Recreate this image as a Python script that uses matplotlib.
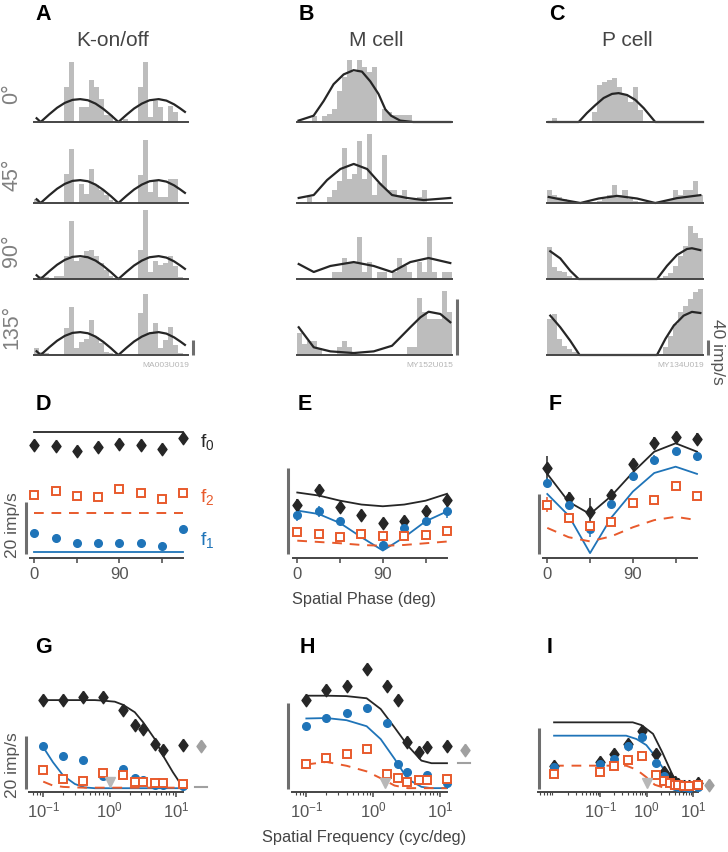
import matplotlib
matplotlib.use('Agg')
import matplotlib.pyplot as plt
import numpy as np
from matplotlib.ticker import LogLocator, NullFormatter, FixedLocator, FixedFormatter

# ---------------- data ----------------
# PSTH histograms (imp/s), 31 bins over one stimulus cycle
a_hist = [
    [0, 0, 0, 0, 0, 0, 93, 160, 0, 40, 40, 112, 93, 61, 19, 19, 0, 0, 8, 0, 0, 93, 160, 13, 56, 40, 0, 43, 27, 0, 0],
    [11, 0, 0, 0, 0, 0, 77, 144, 0, 51, 24, 91, 48, 35, 21, 8, 0, 0, 0, 0, 0, 75, 168, 29, 61, 16, 16, 64, 64, 0, 0],
    [0, 8, 5, 0, 8, 8, 61, 155, 48, 56, 75, 77, 61, 43, 24, 8, 0, 0, 0, 0, 0, 77, 184, 19, 48, 37, 43, 61, 35, 5, 0],
    [19, 8, 5, 0, 0, 0, 72, 128, 19, 35, 43, 93, 48, 32, 8, 5, 0, 0, 0, 0, 0, 112, 163, 59, 85, 19, 40, 75, 27, 5, 0],
]
b_hist = [
    [0, 0, 0, 4, 0, 4, 6, 9, 22, 32, 44, 36, 44, 39, 36, 39, 0, 9, 7, 5, 5, 5, 5, 0, 0, 0, 0, 0, 0, 0, 0],
    [0, 0, 4, 0, 0, 0, 4, 9, 16, 39, 17, 21, 44, 17, 49, 6, 14, 34, 9, 9, 6, 9, 2, 2, 4, 9, 0, 0, 0, 0, 0],
    [0, 0, 0, 0, 0, 0, 0, 5, 5, 15, 12, 12, 30, 5, 12, 0, 5, 5, 0, 5, 15, 9, 5, 0, 12, 5, 30, 5, 0, 5, 5],
    [16, 8, 10, 10, 5, 0, 0, 0, 6, 10, 6, 0, 0, 0, 0, 0, 0, 0, 0, 0, 0, 0, 6, 6, 41, 31, 26, 26, 26, 46, 31],
]
c_hist = [
    [0, 11, 3, 3, 0, 0, 0, 0, 0, 27, 99, 107, 112, 117, 93, 75, 53, 93, 32, 0, 0, 0, 0, 0, 0, 0, 0, 0, 3, 0, 0],
    [35, 21, 16, 11, 5, 0, 0, 0, 0, 0, 5, 11, 21, 48, 21, 35, 11, 5, 0, 0, 0, 0, 0, 5, 11, 35, 21, 35, 35, 59, 21],
    [85, 31, 22, 18, 9, 0, 0, 0, 0, 0, 0, 0, 0, 0, 0, 0, 0, 0, 0, 0, 0, 0, 0, 8, 16, 35, 61, 88, 141, 123, 109],
    [96, 109, 43, 24, 16, 8, 0, 0, 0, 0, 0, 0, 0, 0, 0, 0, 0, 0, 0, 0, 0, 0, 3, 21, 51, 83, 115, 131, 149, 168, 176],
]

# model fits over the cycle (x = fraction of cycle, y = imp/s)
a_fit_x = [0.017, 0.043, 0.10, 0.15, 0.20, 0.25, 0.30, 0.35, 0.40, 0.45, 0.50, 0.548,
           0.60, 0.65, 0.70, 0.75, 0.81, 0.86, 0.91, 0.95, 0.98]
a_fit_y = [10, 0, 21, 38, 51, 59, 61, 58, 49, 35, 18, 0, 19, 36, 49, 58, 61, 57, 47, 36, 27]
b_fit = [
    ([0.01, 0.107, 0.172, 0.236, 0.301, 0.365, 0.419, 0.473, 0.526, 0.570, 0.607, 0.666, 0.75, 0.99],
     [1, 4.5, 15, 27, 34, 37, 36, 29, 20, 9, 4.5, 1, 0, 0]),
    ([0.011, 0.108, 0.194, 0.280, 0.366, 0.452, 0.538, 0.613, 0.710, 0.817, 0.989],
     [3.6, 5.7, 16.4, 24.3, 27.9, 24.3, 13.6, 5.7, 3.6, 2.1, 3.6]),
    ([0.011, 0.108, 0.215, 0.366, 0.495, 0.613, 0.731, 0.849, 0.989],
     [10.7, 5.0, 9.3, 12.1, 9.3, 5.0, 12.1, 15.0, 11.4]),
    ([0.011, 0.108, 0.215, 0.366, 0.495, 0.613, 0.667, 0.731, 0.796, 0.849, 0.925, 0.989],
     [19.8, 5.5, 2.6, 1.4, 2.6, 6.6, 12.6, 19.8, 26.9, 30.9, 29.3, 23.4]),
]
c_fit = [
    ([0.01, 0.203, 0.256, 0.310, 0.363, 0.417, 0.459, 0.513, 0.566, 0.620, 0.662, 0.694, 1.0],
     [0, 0, 24, 45, 64, 75, 77, 72, 59, 37, 16, 0, 0]),
    ([0.011, 0.107, 0.214, 0.331, 0.449, 0.577, 0.694, 0.833, 0.983],
     [16, 8, 0, 12, 19, 12, 0, 13, 21]),
    ([0.021, 0.085, 0.149, 0.203, 0.705, 0.769, 0.833, 0.897, 0.929, 0.983],
     [74, 55, 22, 0, 0, 35, 64, 80, 82, 77]),
    ([0.021, 0.085, 0.149, 0.209, 0.705, 0.759, 0.812, 0.876, 0.929, 0.983],
     [105, 74, 38, 0, 0, 43, 78, 105, 115, 112]),
]

orientations = ['0°', '45°', '90°', '135°']
cell_titles = ['K-on/off', 'M cell', 'P cell']
cell_ids = ['MA003U019', 'MY152U015', 'MY134U019']

# spatial phase tuning (imp/s)
phase = [0, 22.5, 45, 67.5, 90, 112.5, 135, 157.5]
d_f0 = [41.9, 41.4, 39.5, 41.0, 42.3, 42.0, 40.4, 44.5]
d_f1 = [8.1, 6.0, 4.1, 4.1, 4.1, 4.1, 3.0, 9.5]
d_f2 = [22.8, 24.2, 22.3, 21.9, 25.1, 23.3, 21.2, 23.3]
d_f0_err = [0.8, 0.6, 0.6, 0.6, 0.8, 0.6, 0.8, 0.8]
d_f1_err = [0.5, 0.5, 1.0, 0.5, 0.5, 0.5, 1.0, 1.2]
d_f2_err = [1.5, 0.5, 0.5, 0.5, 1.2, 0.5, 1.5, 0.5]
d_f0_fit = [47, 47, 47, 47, 47, 47, 47, 47]
d_f1_fit = [0.6, 0.6, 0.6, 0.6, 0.6, 0.6, 0.6, 0.6]
d_f2_fit = [15.6, 15.6, 15.6, 15.6, 15.6, 15.6, 15.6, 15.6]

e_f0 = [11.5, 14.9, 11.0, 9.1, 7.1, 7.7, 9.9, 12.6]
e_f1 = [9.1, 9.9, 7.7, 5.0, 2.2, 6.0, 7.6, 9.9]
e_f2 = [5.2, 4.7, 3.9, 4.7, 4.3, 4.3, 4.5, 5.4]
e_f0_err = [1.2, 1.0, 0.8, 0.8, 0.8, 0.8, 1.0, 1.2]
e_f1_err = [1.5, 1.2, 0.8, 0.8, 0.8, 0.8, 1.2, 1.5]
e_f2_err = [0.8, 0.8, 0.8, 0.5, 0.5, 0.5, 0.8, 0.5]
e_f0_fit = [14.3, 13.6, 12.4, 11.5, 11.1, 11.5, 12.4, 14.0]
e_f1_fit = [10.1, 9.3, 7.2, 3.9, 0.8, 3.9, 7.6, 9.9]
e_f2_fit = [3.1, 2.8, 2.5, 2.1, 1.9, 2.1, 2.5, 2.9]

f_f0 = [28.7, 18.6, 14.1, 19.8, 30.0, 36.9, 39.1, 38.3]
f_f1 = [23.7, 16.4, 8.3, 16.7, 25.9, 31.4, 34.4, 32.6]
f_f2 = [16.4, 12.0, 9.4, 10.8, 16.9, 18.0, 22.8, 19.4]
f_f0_err = [4.0, 2.0, 4.5, 1.5, 1.5, 2.0, 1.5, 2.0]
f_f1_err = [1.5, 1.5, 2.5, 1.0, 1.0, 1.5, 1.0, 1.5]
f_f2_err = [2.5, 1.5, 1.5, 1.0, 1.0, 1.0, 1.0, 1.0]
f_f0_fit = [26.7, 17.4, 13.3, 19.4, 27.2, 34.1, 36.9, 34.1]
f_f1_fit = [20.0, 12.8, 0.3, 12.2, 20.8, 27.0, 29.1, 26.7]
f_f2_fit = [8.7, 5.6, 4.2, 5.9, 8.9, 11.3, 12.4, 11.3]

# spatial frequency tuning (imp/s)
sf = [0.1, 0.2, 0.4, 0.8, 1.6, 2.4, 3.2, 4.8, 6.4, 12.8]
g_f0 = [33.8, 33.8, 35.1, 35.1, 30.0, 24.3, 22.8, 17.1, 14.9, 16.7]
g_f1 = [16.2, 12.7, 11.0, 5.0, 7.6, 4.1, 3.5, 1.5, 1.5, 1.0]
g_f2 = [7.2, 3.8, 3.2, 6.0, 5.4, 2.8, 2.5, 2.3, 2.3, 1.9]
g_f0_err = [0.8, 0.8, 1.0, 1.0, 1.0, 1.0, 1.0, 1.0, 1.0, 2.0]
g_fit_x = [0.1, 0.14, 0.2, 0.3, 0.42, 0.6, 0.8, 1.2, 1.6, 2.4, 3.2, 4.8, 6.4, 9.0, 12.8]
g_f0_fit = [33.8, 33.8, 33.8, 33.8, 33.8, 33.8, 33.6, 33.2, 32.0, 29.2, 25.4, 19.0, 12.7, 6.4, 0.6]
g_f1_fit = [15.9, 10.2, 5.1, 1.9, 0.6, 0.3, 0.3, 0.3, 0.3, 0.3, 0.3, 0.3, 0.3, 0.3, 0.3]
g_f2_fit = [2.8, 1.3, 0.8, 0.6, 0.5, 0.5, 0.5, 0.5, 0.5, 0.5, 0.5, 0.5, 0.5, 0.5, 0.5]
g_blank = dict(f0=16.5, base=0.6, tri=(1.0, 2.6))

h_f0 = [20.7, 23.0, 24.0, 27.9, 24.0, 20.7, 11.0, 8.5, 9.7, 10.1]
h_f1 = [14.6, 16.5, 17.6, 18.8, 15.3, 5.7, 3.9, 2.0, 3.3, 1.5]
h_f2 = [5.7, 7.2, 8.1, 9.3, 3.6, 2.6, 1.7, 2.1, 2.1, 2.3]
h_f0_err = [0.8, 0.8, 0.8, 0.8, 0.8, 1.0, 0.8, 0.8, 0.8, 0.8]
h_fit_x = [0.1, 0.2, 0.4, 0.8, 1.3, 2.1, 3.3, 5.3, 7.5, 12.8]
h_f0_fit = [21.7, 21.7, 21.6, 21.1, 18.6, 14.3, 10.1, 6.6, 6.0, 6.0]
h_f1_fit = [16.4, 16.5, 16.0, 14.6, 11.6, 7.0, 2.3, 0.5, 0.2, 0.2]
h_f2_fit = [5.7, 6.3, 5.4, 4.1, 2.5, 0.8, 0.2, 0.2, 0.2, 0.2]
h_blank = dict(f0=9.1, base=6.0, tri=(1.5, 1.3))

sf_i = [0.01, 0.1, 0.2, 0.4, 0.8, 1.6, 2.4, 3.2, 4.0, 4.8, 6.4, 8.0, 12.8]
i_f0 = [7.7, 9.0, 11.5, 14.9, 19.2, 11.5, 5.5, 3.5, 2.2, 1.6, 1.1, 0.9, 1.9]
i_f1 = [7.3, 8.2, 9.9, 14.3, 17.1, 8.6, 4.4, 2.4, 1.1, 0.7, 0.5, 0.4, 0.7]
i_f2 = [5.0, 5.5, 7.7, 9.7, 11.0, 4.7, 2.5, 1.9, 1.4, 1.2, 0.9, 0.9, 1.4]
i_f0_err = [0.8, 0.8, 0.8, 0.8, 0.8, 0.8, 0.6, 0.6, 0.5, 0.5, 0.5, 0.5, 0.5]
i_f0_fit_x = [0.01, 0.1, 0.5, 0.77, 1.37, 2.17, 3.4, 4.7, 7.2, 12.8]
i_f0_fit = [22.0, 22.0, 22.0, 21.1, 18.2, 12.1, 5.5, 1.1, 0.2, 0.0]
i_f1_fit_x = [0.01, 0.1, 0.36, 0.6, 0.98, 1.49, 2.17, 3.4, 5.2, 7.2, 12.8]
i_f1_fit = [17.6, 17.6, 17.6, 16.5, 14.5, 11.0, 7.2, 3.3, 0.8, 0.2, 0.2]
i_f2_fit_x = [0.01, 0.1, 0.36, 0.6, 0.98, 1.49, 2.17, 3.4, 12.8]
i_f2_fit = [7.7, 7.7, 7.7, 6.4, 3.9, 1.4, 0.6, 0.2, 0.2]
i_blank = dict(f0=1.3, base=None, tri=(1.0, 2.0))

# ---------------- style ----------------
W, H = 728, 853
plt.rcParams['font.family'] = ['Liberation Sans', 'DejaVu Sans']
plt.rcParams['mathtext.fontset'] = 'custom'
plt.rcParams['mathtext.rm'] = 'Liberation Sans'
plt.rcParams['mathtext.it'] = 'Liberation Sans:italic'
plt.rcParams['mathtext.bf'] = 'Liberation Sans:bold'

DARK = '#262626'
BLUE = '#1f74b8'
ORANGE = '#e85a2c'
BAR = '#bdbdbd'
SCALE = '#6e6e6e'
AXC = '#454545'
TXT = '#555555'

diamond = [(0, 1), (0.72, 0), (0, -1), (-0.72, 0), (0, 1)]

fig = plt.figure(figsize=(W / 100, H / 100), dpi=100)


def axes_px(x0, y0, x1, y1):
    return fig.add_axes([x0 / W, 1 - y1 / H, (x1 - x0) / W, (y1 - y0) / H])


def ftext(x, y, s, **kw):
    fig.text(x / W, 1 - y / H, s, **kw)


# ---------------- top: PSTHs ----------------
n_bins = 31
centers = (np.arange(n_bins) + 0.5) / n_bins
baselines = [123, 204, 280, 356]
columns = [
    dict(x=(34, 188), k=0.375, hists=a_hist, fits=[(a_fit_x, a_fit_y)] * 4, bar_x=193),
    dict(x=(297, 452), k=1.4, hists=b_hist, fits=b_fit, bar_x=457),
    dict(x=(547, 703), k=0.375, hists=c_hist, fits=c_fit, bar_x=708),
]
for ci, col in enumerate(columns):
    x0, x1 = col['x']
    for r, b in enumerate(baselines):
        ax = axes_px(x0, b - 76, x1, b)
        ax.set_xlim(0, 1)
        ax.set_ylim(0, 76 / col['k'])
        ax.bar(centers, col['hists'][r], width=1 / n_bins, color=BAR, linewidth=0)
        fx, fy = col['fits'][r]
        ax.plot(fx, fy, color=DARK, lw=1.6, clip_on=False, zorder=3)
        ax.plot([0, 1], [0, 0], color=AXC, lw=1.4, clip_on=False, zorder=4)
        ax.axis('off')
        if r == 3:
            xa = (col['bar_x'] - x0) / (x1 - x0)
            ax.plot([xa, xa], [0, 40], transform=ax.get_yaxis_transform(),
                    color=SCALE, lw=2.2, solid_capstyle='butt', clip_on=False)
    ftext((x0 + x1) / 2 + 2, 40, cell_titles[ci], ha='center', va='center',
          fontsize=15, color='#444444')
    ftext(x1 - 22, 366, cell_ids[ci], ha='center', va='center', fontsize=6, color='#b5b5b5')

for r, lab in enumerate(orientations):
    ftext(12, baselines[r] - 29, lab, rotation=90, ha='center', va='center',
          fontsize=15.5, color='#808080')
ftext(717, 352, '40 imp/s', rotation=-90, ha='center', va='center', fontsize=12.5, color=TXT)

for lab, (x, y) in zip('ABC', [(43, 15), (306, 15), (557, 15)]):
    ftext(x, y, lab, ha='center', va='center', fontsize=15.5, fontweight='bold', color='black')


# ---------------- helpers for tuning panels ----------------
def base_axis(ax):
    for s in ['top', 'right', 'left']:
        ax.spines[s].set_visible(False)
    ax.spines['bottom'].set_color(AXC)
    ax.spines['bottom'].set_linewidth(1.4)
    ax.tick_params(axis='x', colors=AXC, length=3.5, width=1.1, labelsize=12,
                   labelcolor=TXT, pad=2)
    ax.tick_params(axis='x', which='minor', colors=AXC, length=2, width=0.8)
    ax.set_yticks([])
    ax.patch.set_alpha(0)


def scale_bar(ax, xpx, x0, x1, val=20):
    xa = (xpx - x0) / (x1 - x0)
    ax.plot([xa, xa], [0, val], transform=ax.get_yaxis_transform(), color=SCALE,
            lw=2.2, solid_capstyle='butt', clip_on=False)


def draw_series(ax, x, f0, f1, f2, fits, errs=(None, None, None)):
    (x0f, y0f), (x1f, y1f), (x2f, y2f) = fits
    ax.plot(x0f, y0f, color=DARK, lw=1.3, clip_on=False, zorder=2)
    ax.plot(x1f, y1f, color=BLUE, lw=1.3, clip_on=False, zorder=2)
    ax.plot(x2f, y2f, color=ORANGE, lw=1.4, dashes=(5, 4), clip_on=False, zorder=2)
    for y, e, c in zip([f0, f1, f2], errs, [DARK, BLUE, ORANGE]):
        if e is not None:
            ax.errorbar(x, y, yerr=e, fmt='none', ecolor=c, elinewidth=1.1,
                        capsize=0, clip_on=False, zorder=3)
    ax.plot(x, f0, ls='none', marker=diamond, ms=9, color=DARK, clip_on=False, zorder=4)
    ax.plot(x, f1, ls='none', marker='o', ms=5.5, color=BLUE, clip_on=False, zorder=5)
    ax.plot(x, f2, ls='none', marker='s', ms=5.5, mfc='white', mec=ORANGE, mew=1.4,
            clip_on=False, zorder=6)


# ---------------- middle: spatial phase ----------------
phase_panels = [
    dict(x=(30, 183), k=2.6, top=415, bar=25.7, d=(d_f0, d_f1, d_f2),
         fit=(d_f0_fit, d_f1_fit, d_f2_fit), err=(d_f0_err, d_f1_err, d_f2_err)),
    dict(x=(293, 447), k=4.3, top=460, bar=288, d=(e_f0, e_f1, e_f2),
         fit=(e_f0_fit, e_f1_fit, e_f2_fit), err=(e_f0_err, e_f1_err, e_f2_err)),
    dict(x=(543, 697), k=3.0, top=420, bar=539, d=(f_f0, f_f1, f_f2),
         fit=(f_f0_fit, f_f1_fit, f_f2_fit), err=(f_f0_err, f_f1_err, f_f2_err)),
]
zero_mid, spine_mid = 555, 559
for p in phase_panels:
    x0, x1 = p['x']
    ax = axes_px(x0, p['top'], x1, spine_mid)
    ax.set_xlim(-4.5, 157.5)
    ax.set_ylim(-(spine_mid - zero_mid) / p['k'], (zero_mid - p['top']) / p['k'])
    base_axis(ax)
    ax.set_xticks([0, 45, 90, 135])
    ax.set_xticklabels(['0', '', '90', ''])
    fits = [(phase, f) for f in p['fit']]
    draw_series(ax, phase, *p['d'], fits, p['err'])
    scale_bar(ax, p['bar'], x0, x1)

ftext(200, 442, 'f$_0$', ha='left', va='center', fontsize=14, color=DARK)
ftext(200, 497, 'f$_2$', ha='left', va='center', fontsize=14, color=ORANGE)
ftext(200, 540, 'f$_1$', ha='left', va='center', fontsize=14, color=BLUE)
ftext(12, 525, '20 imp/s', rotation=90, ha='center', va='center', fontsize=12.5, color=TXT)
ftext(364, 600, 'Spatial Phase (deg)', ha='center', va='center', fontsize=11.8, color='#444444')
for lab, (x, y) in zip('DEF', [(43, 405), (305, 405), (555, 405)]):
    ftext(x, y, lab, ha='center', va='center', fontsize=15.5, fontweight='bold', color='black')

# ---------------- bottom: spatial frequency ----------------
sf_panels = [
    dict(x=(29, 183), xlim=(0.061, 12.8), k=2.63, top=690, bar=25.7, xs=sf,
         d=(g_f0, g_f1, g_f2), err=(g_f0_err, None, None),
         fit=((g_fit_x, g_f0_fit), (g_fit_x, g_f1_fit), (g_fit_x, g_f2_fit)),
         blank=g_blank, blank_x=23.5, dash=(19.5, 29.5)),
    dict(x=(292, 447), xlim=(0.061, 12.8), k=4.3, top=690, bar=288.3, xs=sf,
         d=(h_f0, h_f1, h_f2), err=(h_f0_err, None, None),
         fit=((h_fit_x, h_f0_fit), (h_fit_x, h_f1_fit), (h_fit_x, h_f2_fit)),
         blank=h_blank, blank_x=23.5, dash=(18.8, 28)),
    dict(x=(538, 698), xlim=(0.0045, 12.8), k=3.03, top=700, bar=539.3, xs=sf_i,
         d=(i_f0, i_f1, i_f2), err=(i_f0_err, None, None),
         fit=((i_f0_fit_x, i_f0_fit), (i_f1_fit_x, i_f1_fit), (i_f2_fit_x, i_f2_fit)),
         blank=i_blank, blank_x=22, dash=None),
]
zero_bot, spine_bot = 790, 793.3
for p in sf_panels:
    x0, x1 = p['x']
    ax = axes_px(x0, p['top'], x1, spine_bot)
    ax.set_xscale('log')
    ax.set_xlim(*p['xlim'])
    ax.set_ylim(-(spine_bot - zero_bot) / p['k'], (zero_bot - p['top']) / p['k'])
    base_axis(ax)
    ax.xaxis.set_major_locator(FixedLocator([0.1, 1, 10]))
    ax.xaxis.set_major_formatter(FixedFormatter(['$10^{-1}$', '$10^{0}$', '$10^{1}$']))
    ax.xaxis.set_minor_locator(LogLocator(base=10, subs=np.arange(2, 10), numticks=20))
    ax.xaxis.set_minor_formatter(NullFormatter())
    draw_series(ax, p['xs'], *p['d'], p['fit'], p['err'])
    bl = p['blank']
    ax.plot([p['blank_x']], [bl['f0']], ls='none', marker=diamond, ms=9,
            color='#a0a0a0', clip_on=False, zorder=4)
    if p['dash'] is not None:
        ax.plot(p['dash'], [bl['base'], bl['base']], color='#a0a0a0', lw=1.5, clip_on=False)
    ax.plot([bl['tri'][0]], [bl['tri'][1]], ls='none', marker='v', ms=7,
            color='#b8b8b8', clip_on=False, zorder=7)
    scale_bar(ax, p['bar'], x0, x1)

ftext(12, 765, '20 imp/s', rotation=90, ha='center', va='center', fontsize=12.5, color=TXT)
ftext(364, 838, 'Spatial Frequency (cyc/deg)', ha='center', va='center', fontsize=11.8,
      color='#444444')
for lab, (x, y) in zip('GHI', [(43, 648), (307, 648), (550, 648)]):
    ftext(x, y, lab, ha='center', va='center', fontsize=15.5, fontweight='bold', color='black')

fig.savefig('out.png', dpi=100)
